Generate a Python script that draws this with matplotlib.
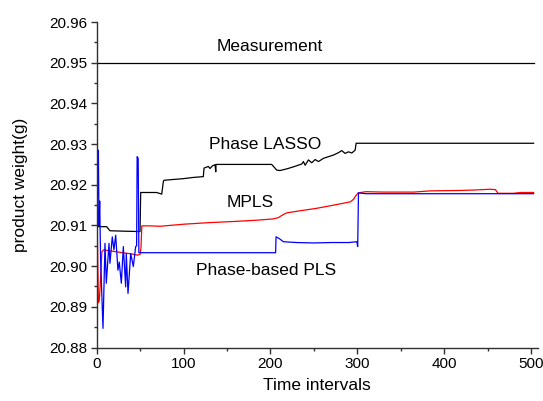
import matplotlib
matplotlib.use("Agg")
import matplotlib.pyplot as plt
from matplotlib.ticker import MultipleLocator, FormatStrFormatter

plt.rcParams['font.family'] = ['Liberation Sans', 'DejaVu Sans']

# ---- data ----
meas_x = [0, 503]
meas_y = [20.95, 20.95]

lasso_x = [0, 1, 2, 11.5, 15.3, 30, 49.9, 50.7, 60, 69, 74.9, 76.8, 77.5, 88.3, 99.8,
           111.3, 122.8, 123.6, 128.6, 130.5, 133.6, 136.3, 137.1, 137.4, 201.5, 207.3,
           211.1, 218.8, 226.5, 236.1, 238, 240, 243.8, 247.6, 251.5, 255.3, 261.1, 266.8,
           272.6, 278.4, 282.2, 286, 289.9, 293.7, 297.5, 298.7, 320, 400, 503]
lasso_y = [20.929, 20.915, 20.9097, 20.9097, 20.9087, 20.9086, 20.9085, 20.9181, 20.9181,
           20.9181, 20.9177, 20.9208, 20.9211, 20.9213, 20.9215, 20.9218, 20.9220, 20.9241,
           20.9245, 20.9240, 20.9247, 20.9249, 20.9232, 20.9250, 20.9250, 20.9236, 20.9235,
           20.9239, 20.9244, 20.9251, 20.9257, 20.9248, 20.9261, 20.9254, 20.9262, 20.9257,
           20.9265, 20.9269, 20.9273, 20.9279, 20.9284, 20.9277, 20.9281, 20.9278, 20.9285,
           20.9302, 20.9302, 20.9302, 20.9302]

mpls_x = [0, 1, 2, 3, 4, 6, 8, 20, 30, 40, 47, 50, 51, 52, 61, 73, 100, 130, 160, 185, 203,
          209, 215, 219, 234, 253, 273, 292, 296, 298, 301, 310, 330, 365, 384, 418, 434,
          453, 459, 462, 480, 488, 503]
mpls_y = [20.920, 20.905, 20.891, 20.8915, 20.895, 20.9035, 20.9040, 20.9036, 20.9033,
          20.9030, 20.9027, 20.9029, 20.9045, 20.9099, 20.9099, 20.9098, 20.9103, 20.9107,
          20.9110, 20.9113, 20.9116, 20.9119, 20.9127, 20.9131, 20.9136, 20.9142, 20.9150,
          20.9158, 20.9165, 20.9172, 20.9180, 20.9183, 20.9182, 20.9182, 20.9185, 20.9186,
          20.9187, 20.9189, 20.9188, 20.9179, 20.9179, 20.9181, 20.9181]

ppls_x = [0, 1, 2, 2.7, 3.5, 4.5, 7.3, 9.6, 11.1, 14.2, 15.3, 18, 19.9, 21.9, 24.5, 26,
          28.4, 30.7, 33.4, 34.1, 36.1, 39.2, 42.2, 44.9, 46.0, 46.6, 47.8, 48.6, 206,
          206.5, 210, 215, 230, 250, 270, 290, 299.5, 300.5, 301.4, 310, 503]
ppls_y = [20.905, 20.918, 20.9285, 20.910, 20.916, 20.902, 20.8847, 20.9056, 20.8958,
          20.9056, 20.9007, 20.9072, 20.9040, 20.9076, 20.8990, 20.9010, 20.8958, 20.9048,
          20.8949, 20.9031, 20.8933, 20.9031, 20.8999, 20.9048, 20.9050, 20.9269, 20.9265,
          20.9033, 20.9033, 20.9072, 20.9068, 20.9060, 20.9058, 20.9057, 20.9058, 20.9058,
          20.9060, 20.9048, 20.9180, 20.9178, 20.9178]

x_ticks = [0, 100, 200, 300, 400, 500]
y_ticks = [20.88, 20.89, 20.90, 20.91, 20.92, 20.93, 20.94, 20.95, 20.96]

# ---- figure ----
fig = plt.figure(figsize=(5.43, 4.01), dpi=100)
ax = fig.add_axes([0.178, 0.1334, 0.8127, 0.8117])

ax.plot(meas_x, meas_y, color='black', lw=0.9)
ax.plot(lasso_x, lasso_y, color='black', lw=0.9)
ax.plot(mpls_x, mpls_y, color='#ff0000', lw=0.9)
ax.plot(ppls_x, ppls_y, color='#0000ff', lw=0.9)

ax.set_xlim(0, 508)
ax.set_ylim(20.88, 20.96)
ax.set_xticks(x_ticks)
ax.set_yticks(y_ticks)
ax.xaxis.set_minor_locator(MultipleLocator(50))
ax.yaxis.set_minor_locator(MultipleLocator(0.005))
ax.yaxis.set_major_formatter(FormatStrFormatter('%.2f'))

for s in ['top', 'right']:
    ax.spines[s].set_visible(False)
for s in ['left', 'bottom']:
    ax.spines[s].set_color('#303030')
    ax.spines[s].set_linewidth(1.0)

ax.tick_params(which='major', direction='out', length=4, width=1.0, color='#303030',
               labelsize=11, pad=3)
ax.tick_params(which='minor', direction='out', length=2.5, width=1.0, color='#303030')

ax.set_xlabel('Time intervals', fontsize=12.5, labelpad=5)
ax.set_ylabel('product weight(g)', fontsize=12.5, labelpad=15)

ax.text(199.7, 20.9541, 'Measurement', fontsize=12.5, ha='center', va='center')
ax.text(194.5, 20.9300, 'Phase LASSO', fontsize=12.5, ha='center', va='center')
ax.text(176.6, 20.9157, 'MPLS', fontsize=12.5, ha='center', va='center')
ax.text(195, 20.8990, 'Phase-based PLS', fontsize=12.5, ha='center', va='center')

fig.savefig('out.png', dpi=100)
